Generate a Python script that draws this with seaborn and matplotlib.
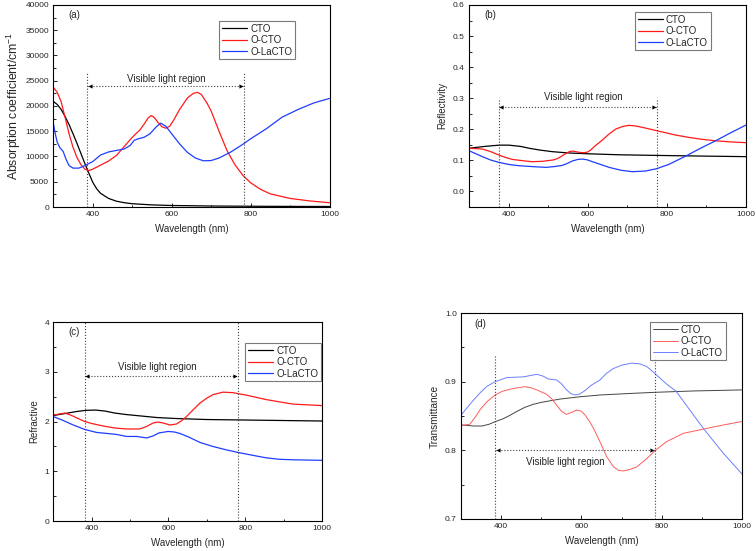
import pandas as pd
import matplotlib
matplotlib.use("Agg")
import matplotlib.pyplot as plt
import seaborn as sns
from matplotlib.ticker import MultipleLocator

sns.set_style("white")
plt.rcParams['font.family'] = ['Liberation Sans', 'DejaVu Sans']
plt.rcParams['mathtext.default'] = 'regular'

series = ['CTO', 'O-CTO', 'O-LaCTO']
colors = {'CTO': 'black', 'O-CTO': '#ff1a1a', 'O-LaCTO': '#1f3dff'}
colors_d = {'CTO': '#444444', 'O-CTO': '#ff5c5c', 'O-LaCTO': '#6b80ff'}

# (a) absorption coefficient
a_cto_x = [300, 310, 320, 330, 340, 350, 360, 370, 380, 390, 400, 410, 420, 440, 460, 480, 500, 550, 600, 700, 800, 900, 1000]
a_cto_y = [20900, 20300, 19300, 17900, 16300, 14500, 12600, 10600, 8600, 6700, 4900, 3600, 2700, 1700, 1150, 850, 650, 420, 300, 200, 150, 120, 100]
a_octo_x = [300, 310, 320, 330, 340, 350, 360, 370, 380, 390, 400, 420, 440, 460, 480, 500, 520, 530, 540, 548,
            555, 565, 575, 585, 595, 605, 620, 640, 655, 665, 675, 690, 700, 720, 740, 760, 780, 800, 825, 850, 900, 950, 1000]
a_octo_y = [23700, 22700, 20800, 17700, 14500, 11800, 9800, 8400, 7500, 7200, 7500, 8300, 9100, 10200, 12000, 13800, 15300, 16400, 17600, 18100,
            17800, 16800, 15900, 15600, 16000, 17200, 19300, 21600, 22500, 22700, 22300, 20500, 19000, 15000, 11200, 8400, 6300, 4800, 3500, 2600, 1700, 1200, 850]
a_olacto_x = [300, 305, 310, 317, 325, 332, 340, 350, 365, 380, 400, 420, 440, 460, 480, 495, 505, 515, 530, 545,
              560, 572, 585, 600, 620, 640, 660, 680, 700, 720, 750, 780, 800, 840, 880, 920, 960, 1000]
a_olacto_y = [16600, 14500, 12800, 11700, 11000, 9500, 8200, 7700, 7700, 8200, 9000, 10300, 10900, 11200, 11500, 12200, 13200, 13500, 13800, 14500,
              15800, 16600, 16000, 14500, 12500, 10800, 9700, 9150, 9200, 9700, 10900, 12400, 13500, 15500, 17800, 19300, 20600, 21500]

# (b) reflectivity
b_cto_x = [300, 340, 376, 401, 430, 452, 480, 511, 550, 595, 680, 774, 880, 1000]
b_cto_y = [0.139, 0.145, 0.149, 0.149, 0.145, 0.139, 0.133, 0.128, 0.124, 0.1215, 0.118, 0.116, 0.114, 0.112]
b_octo_x = [300, 334, 355, 376, 393, 410, 435, 460, 485, 511, 522, 532, 543, 553, 562, 570, 580, 591, 600, 607,
            620, 637, 654, 671, 688, 704, 720, 738, 756, 774, 800, 822, 855, 890, 923, 960, 1000]
b_octo_y = [0.139, 0.1365, 0.128, 0.117, 0.109, 0.103, 0.099, 0.0957, 0.097, 0.101, 0.105, 0.112, 0.121, 0.128, 0.130, 0.128, 0.1255, 0.1247, 0.127, 0.133,
            0.148, 0.1655, 0.185, 0.201, 0.209, 0.2127, 0.211, 0.2062, 0.201, 0.1955, 0.188, 0.1815, 0.174, 0.1676, 0.163, 0.1595, 0.157]
b_olacto_x = [300, 334, 355, 376, 400, 426, 460, 494, 515, 536, 548, 561, 575, 586, 598, 612, 632, 654, 685, 713,
              746, 774, 805, 848, 885, 923, 960, 1000]
b_olacto_y = [0.131, 0.112, 0.101, 0.0936, 0.087, 0.0829, 0.080, 0.0775, 0.080, 0.084, 0.090, 0.098, 0.103, 0.1043, 0.102, 0.0957, 0.087, 0.0775, 0.068, 0.0636,
              0.0657, 0.0732, 0.0871, 0.114, 0.139, 0.163, 0.188, 0.2137]

# (c) refractive index
c_cto_x = [300, 330, 360, 385, 410, 435, 460, 490, 530, 570, 620, 700, 800, 900, 1000]
c_cto_y = [2.12, 2.16, 2.20, 2.225, 2.23, 2.21, 2.17, 2.14, 2.11, 2.08, 2.06, 2.04, 2.03, 2.02, 2.01]
c_octo_x = [300, 315, 330, 345, 365, 382, 400, 430, 460, 490, 525, 543, 560, 573, 586, 604, 621, 635, 647, 665,
            682, 700, 716, 742, 768, 803, 855, 924, 1000]
c_octo_y = [2.13, 2.15, 2.17, 2.13, 2.06, 2.00, 1.96, 1.91, 1.87, 1.85, 1.85, 1.90, 1.97, 1.99, 1.97, 1.93, 1.95, 2.02, 2.10, 2.24,
            2.37, 2.47, 2.54, 2.59, 2.58, 2.53, 2.44, 2.35, 2.32]
c_olacto_x = [300, 326, 352, 382, 413, 440, 465, 491, 517, 543, 560, 575, 599, 615, 630, 655, 682, 715, 751, 780,
              820, 855, 890, 930, 1000]
c_olacto_y = [2.10, 2.02, 1.93, 1.84, 1.78, 1.76, 1.74, 1.70, 1.70, 1.67, 1.71, 1.77, 1.80, 1.79, 1.76, 1.68, 1.58, 1.50, 1.43, 1.38,
              1.32, 1.27, 1.24, 1.23, 1.22]

# (d) transmittance
d_cto_x = [300, 330, 352, 370, 385, 405, 422, 440, 459, 480, 501, 547, 596, 646, 720, 783, 880, 1000]
d_cto_y = [0.837, 0.8355, 0.8354, 0.838, 0.8417, 0.846, 0.851, 0.857, 0.8626, 0.867, 0.870, 0.8747, 0.878, 0.8806, 0.8828, 0.8845, 0.8865, 0.888]
d_octo_x = [300, 322, 335, 347, 365, 385, 403, 422, 440, 459, 475, 489, 513, 526, 538, 550, 562, 575, 588, 600,
            609, 620, 630, 646, 663, 680, 692, 704, 720, 738, 763, 783, 812, 854, 905, 953, 1000]
d_octo_y = [0.836, 0.838, 0.848, 0.8587, 0.871, 0.8806, 0.886, 0.889, 0.891, 0.8927, 0.891, 0.888, 0.8816, 0.875, 0.866, 0.857, 0.8525, 0.855, 0.8587, 0.857,
            0.8514, 0.842, 0.832, 0.8126, 0.7907, 0.776, 0.771, 0.770, 0.772, 0.776, 0.788, 0.7995, 0.8126, 0.8248, 0.831, 0.8369, 0.842]
d_olacto_x = [300, 315, 331, 348, 364, 385, 414, 455, 489, 505, 517, 538, 550, 563, 574, 584, 595, 605, 625, 646,
              662, 679, 700, 725, 745, 763, 783, 812, 836, 870, 905, 953, 1000]
d_olacto_y = [0.851, 0.862, 0.873, 0.884, 0.893, 0.900, 0.906, 0.907, 0.9107, 0.908, 0.904, 0.9025, 0.897, 0.888, 0.8825, 0.8806, 0.882, 0.8854, 0.895, 0.9024,
              0.912, 0.919, 0.924, 0.927, 0.926, 0.922, 0.912, 0.8966, 0.886, 0.8587, 0.831, 0.796, 0.7655]


def build(xs, ys):
    frames = [pd.DataFrame({'wl': x, 'val': y, 'sample': name}) for name, x, y in zip(series, xs, ys)]
    return pd.concat(frames, ignore_index=True)


def panel(ax, df, pal, lw, ylim, ymaj, ymin, ylabel, ylsize, tag, tagpos, legpos, fmt):
    sns.lineplot(data=df, x='wl', y='val', hue='sample', palette=pal, linewidth=lw,
                 estimator=None, sort=True, ax=ax)
    ax.set_xlim(300, 1000)
    ax.set_ylim(*ylim)
    ax.xaxis.set_major_locator(MultipleLocator(200))
    ax.xaxis.set_minor_locator(MultipleLocator(100))
    ax.yaxis.set_major_locator(MultipleLocator(ymaj))
    ax.yaxis.set_minor_locator(MultipleLocator(ymin))
    ax.yaxis.set_major_formatter(fmt)
    ax.tick_params(which='both', direction='in', width=0.7, labelsize=6, pad=3,
                   bottom=True, left=True, top=False, right=False)
    ax.tick_params(which='major', length=3)
    ax.tick_params(which='minor', length=1.8)
    for s in ax.spines.values():
        s.set_color('black')
        s.set_linewidth(0.8)
    ax.set_xlabel('Wavelength (nm)', fontsize=7)
    ax.set_ylabel(ylabel, fontsize=ylsize)
    ax.text(tagpos[0], tagpos[1], tag, transform=ax.transAxes, fontsize=7, ha='left', va='center')
    handles, labels = ax.get_legend_handles_labels()
    ax.legend(handles, labels, loc='upper left', bbox_to_anchor=legpos, bbox_transform=fig.transFigure,
              borderaxespad=0, fontsize=7, frameon=True, fancybox=False, edgecolor='0.35',
              handlelength=2.6, handletextpad=0.3, labelspacing=0.15, borderpad=0.3)
    ax.get_legend().get_frame().set_linewidth(0.8)


def visible(ax, x1, x2, y0, y1, ya, tx, ty):
    for x in (x1, x2):
        ax.plot([x, x], [y0, y1], ls=':', color='0.25', lw=0.8)
    ax.plot([x1, x2], [ya, ya], ls=':', color='0.25', lw=0.8)
    ax.plot([x1 + 6], [ya], marker='<', ms=3, color='black', mew=0)
    ax.plot([x2 - 6], [ya], marker='>', ms=3, color='black', mew=0)
    ax.text(tx, ty, 'Visible light region', fontsize=7, ha='center', va='center')


fig = plt.figure(figsize=(7.56, 5.51), dpi=100)
ax_a = fig.add_axes([0.0705, 0.6243, 0.3654, 0.3667])
ax_b = fig.add_axes([0.6204, 0.6243, 0.3664, 0.3667])
ax_c = fig.add_axes([0.0705, 0.0544, 0.3554, 0.3612])
ax_d = fig.add_axes([0.6098, 0.0581, 0.3717, 0.3738])

int_fmt = matplotlib.ticker.FormatStrFormatter('%d')
one_fmt = matplotlib.ticker.FormatStrFormatter('%.1f')

panel(ax_a, build([a_cto_x, a_octo_x, a_olacto_x], [a_cto_y, a_octo_y, a_olacto_y]), colors, 0.9,
      (0, 40000), 5000, 2500, 'Absorption coefficient/cm$^{-1}$', 8.8, '(a)', (0.053, 0.95), (0.2897, 0.9624), int_fmt)
ax_a.yaxis.labelpad = 2
visible(ax_a, 386, 782, 0, 26600, 23900, 587, 25300)

panel(ax_b, build([b_cto_x, b_octo_x, b_olacto_x], [b_cto_y, b_octo_y, b_olacto_y]), colors, 0.9,
      (-0.05, 0.6), 0.1, 0.05, 'Reflectivity', 7, '(b)', (0.054, 0.95), (0.8395, 0.9788), one_fmt)
visible(ax_b, 376, 774, -0.05, 0.30, 0.273, 588, 0.303)

panel(ax_c, build([c_cto_x, c_octo_x, c_olacto_x], [c_cto_y, c_octo_y, c_olacto_y]), colors, 0.9,
      (0, 4), 1, 0.5, 'Refractive', 7, '(c)', (0.056, 0.951), (0.3241, 0.378), int_fmt)
visible(ax_c, 383, 780, 0, 4, 2.91, 572, 3.10)

panel(ax_d, build([d_cto_x, d_octo_x, d_olacto_x], [d_cto_y, d_octo_y, d_olacto_y]), colors_d, 0.7,
      (0.7, 1.0), 0.1, 0.05, 'Transmittance', 7.2, '(d)', (0.046, 0.947), (0.8594, 0.4162), one_fmt)
visible(ax_d, 385, 783, 0.7, 0.939, 0.80, 561, 0.783)

fig.savefig('out.png', dpi=100)
